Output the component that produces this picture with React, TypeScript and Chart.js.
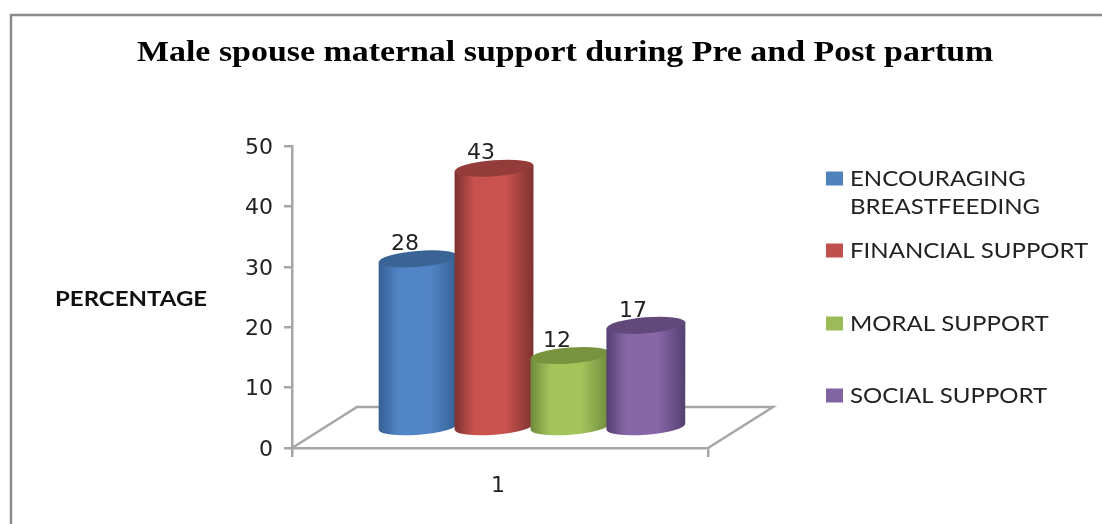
import React, { useEffect, useRef } from "react";
import { Chart, registerables } from "chart.js";

Chart.register(...registerables);

const categories = ["1"];
const seriesLabels = ["ENCOURAGING BREASTFEEDING", "FINANCIAL SUPPORT", "MORAL SUPPORT", "SOCIAL SUPPORT"];
const encouragingBreastfeeding = [28];
const financialSupport = [43];
const moralSupport = [12];
const socialSupport = [17];
const yTicks = [0, 10, 20, 30, 40, 50];
const titleText = "Male spouse maternal support during Pre and Post partum";
const yAxisLabel = "PERCENTAGE";

const palette = [
  { mid: "#5285c6", edge: "#355f92", top: "#3a6396", swatch: "#4f81bd" },
  { mid: "#c9524f", edge: "#7d3230", top: "#943c39", swatch: "#c0504d" },
  { mid: "#a2c45b", edge: "#6f8a3c", top: "#77933d", swatch: "#9bbb59" },
  { mid: "#8767a8", edge: "#544070", top: "#614a7b", swatch: "#8064a2" },
];

const SANS = "'DejaVu Sans'";

// Perspective shift from the front of the floor to the middle of its depth.
const DEPTH_X = 32;
const DEPTH_Y = -20;
const TILT = (-4.5 * Math.PI) / 180;
const ELLIPSE_RY = 8;

// Text set wide: x is the left edge and sx the horizontal stretch.
function wideText(ctx: any, text: string, x: number, y: number, sx: number) {
  ctx.save();
  ctx.translate(x, y);
  ctx.scale(sx, 1);
  ctx.textAlign = "left";
  ctx.textBaseline = "middle";
  ctx.fillText(text, 0, 0);
  ctx.restore();
}

const cylinders = {
  id: "cylinders",
  beforeDraw(chart: any) {
    const { ctx } = chart;
    ctx.save();
    ctx.strokeStyle = "#8a8a8a";
    ctx.lineWidth = 2.5;
    ctx.beginPath();
    ctx.moveTo(11, 524);
    ctx.lineTo(11, 15);
    ctx.lineTo(1102, 15);
    ctx.stroke();

    ctx.fillStyle = "#000";
    ctx.font = "bold 30px 'Liberation Serif'";
    wideText(ctx, titleText, 137, 53, 1.13);
    ctx.restore();
  },
  beforeDatasetsDraw(chart: any) {
    const { ctx, chartArea: a } = chart;
    ctx.save();
    ctx.strokeStyle = "#a6a6a6";
    ctx.lineWidth = 2.5;
    ctx.beginPath();
    ctx.moveTo(a.left, a.bottom);
    ctx.lineTo(a.left + 65, a.bottom - 41);
    ctx.lineTo(a.right + 65, a.bottom - 41);
    ctx.lineTo(a.right, a.bottom);
    ctx.stroke();
    ctx.restore();
  },
  afterDatasetsDraw(chart: any) {
    const { ctx } = chart;
    ctx.save();
    chart.data.datasets.forEach((ds: any, i: number) => {
      const bar = chart.getDatasetMeta(i).data[0];
      const c = palette[i];
      const rx = bar.width / 2 + 1.5;
      const cx = bar.x + DEPTH_X;
      const topY = bar.y + DEPTH_Y;
      const baseY = bar.base + DEPTH_Y;
      const dy = rx * Math.sin(TILT);

      const grad = ctx.createLinearGradient(cx - rx, 0, cx + rx, 0);
      grad.addColorStop(0, c.edge);
      grad.addColorStop(0.25, c.mid);
      grad.addColorStop(0.65, c.mid);
      grad.addColorStop(1, c.edge);

      ctx.fillStyle = grad;
      ctx.beginPath();
      ctx.moveTo(cx - rx, topY - dy);
      ctx.lineTo(cx - rx, baseY - dy);
      ctx.ellipse(cx, baseY, rx, ELLIPSE_RY, TILT, Math.PI, 0, true);
      ctx.lineTo(cx + rx, topY + dy);
      ctx.closePath();
      ctx.fill();

      ctx.fillStyle = c.top;
      ctx.beginPath();
      ctx.ellipse(cx, topY, rx, ELLIPSE_RY, TILT, 0, Math.PI * 2);
      ctx.fill();

      ctx.fillStyle = "#222";
      ctx.font = `22px ${SANS}`;
      ctx.textAlign = "center";
      ctx.textBaseline = "middle";
      ctx.fillText(String(ds.data[0]), cx - 13, topY - 14.5);
    });

    // Y axis caption, set horizontally to the left of the tick labels.
    ctx.fillStyle = "#111";
    ctx.font = "bold 20px Lato";
    wideText(ctx, yAxisLabel, 55, 300, 1.2);

    // Legend column, with the long first entry wrapped onto two lines.
    const rows = [
      { swatch: 178, lines: [179, 207] },
      { swatch: 250, lines: [251] },
      { swatch: 323, lines: [324] },
      { swatch: 395, lines: [396] },
    ];
    ctx.font = "21px Lato";
    chart.data.datasets.forEach((ds: any, i: number) => {
      const r = rows[i];
      ctx.fillStyle = palette[i].swatch;
      ctx.fillRect(826, r.swatch - 6.5, 17, 14);
      ctx.fillStyle = "#222";
      const parts = r.lines.length > 1 ? ds.label.split(" ") : [ds.label];
      parts.forEach((t: string, k: number) => wideText(ctx, t, 850, r.lines[k], 1.144));
    });
    ctx.restore();
  },
};

export default function App() {
  const ref = useRef<HTMLCanvasElement>(null);
  useEffect(() => {
    const chart = new Chart(ref.current!, {
      type: "bar",
      data: {
        labels: categories,
        datasets: [encouragingBreastfeeding, financialSupport, moralSupport, socialSupport].map((data, i) => ({
          label: seriesLabels[i],
          data,
          backgroundColor: "transparent",
          borderWidth: 0,
          categoryPercentage: 0.73,
          barPercentage: 1,
        })),
      },
      options: {
        responsive: false,
        animation: false,
        layout: { padding: { left: 0, right: 394, top: 146, bottom: 0 } },
        plugins: {
          legend: { display: false },
          tooltip: { enabled: false },
          title: { display: false },
        },
        scales: {
          x: {
            grid: { drawOnChartArea: false, color: "#a6a6a6", tickLength: 9, lineWidth: 2.5 },
            border: { color: "#a6a6a6", width: 2.5 },
            ticks: { color: "#222", font: { family: SANS, size: 22 }, padding: 16, labelOffset: -2 },
            afterFit(s: any) {
              s.height = 76;
            },
          },
          y: {
            min: 0,
            max: 50,
            afterBuildTicks(s: any) {
              s.ticks = yTicks.map((value) => ({ value }));
            },
            grid: { drawOnChartArea: false, color: "#a6a6a6", tickLength: 8, lineWidth: 2.5 },
            border: { color: "#a6a6a6", width: 2.5 },
            ticks: { color: "#222", font: { family: SANS, size: 22 }, padding: 11, labelOffset: 2 },
            afterFit(s: any) {
              s.width = 292;
            },
          },
        },
      },
      plugins: [cylinders],
    } as any);
    return () => chart.destroy();
  }, []);

  return (
    <div style={{ position: "absolute", left: 0, top: 0, width: 1102, height: 524, background: "#fff" }}>
      <canvas ref={ref} width={1102} height={524} style={{ display: "block" }} />
    </div>
  );
}
